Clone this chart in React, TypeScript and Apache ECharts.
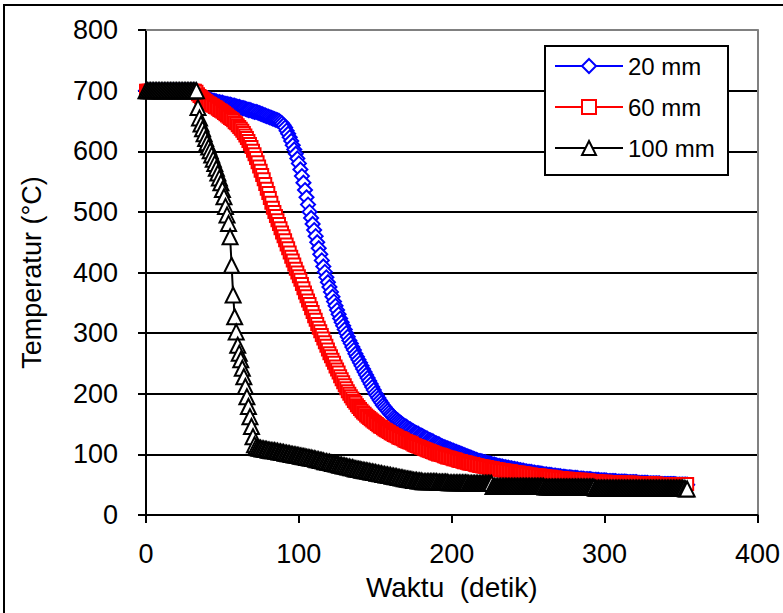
import { useEffect, useRef } from "react";
import * as echarts from "echarts";

// Legend names
const SERIES_NAMES = ["20 mm", "60 mm", "100 mm"];

// Temperature (°C) read every second, t = 0 … 354 s
const temp20 = [
  700, 700, 700, 700, 700, 700, 700, 700, 700, 700,
  700, 700, 700, 700, 700, 700, 700, 700, 700, 700,
  700, 700, 700, 700, 700, 700, 700, 700, 700, 700,
  700, 700, 700, 700, 696, 693, 691, 690, 689, 688,
  687, 686, 685, 684, 683, 683, 682, 681, 681, 680,
  680, 679, 678, 678, 677, 677, 676, 675, 675, 674,
  673, 673, 672, 671, 671, 670, 669, 668, 668, 667,
  666, 665, 665, 664, 663, 662, 661, 660, 659, 658,
  657, 656, 655, 654, 653, 652, 651, 650, 648, 646,
  643, 639, 634, 629, 623, 617, 610, 603, 596, 588,
  580, 570, 559, 548, 536, 524, 512, 500, 490, 480,
  470, 460, 450, 440, 430, 420, 410, 401, 392, 384,
  376, 368, 360, 352, 345, 338, 331, 324, 318, 312,
  306, 300, 294, 288, 283, 277, 272, 266, 261, 256,
  251, 246, 241, 236, 231, 226, 221, 216, 211, 206,
  201, 197, 193, 189, 185, 181, 178, 175, 172, 169,
  166, 164, 161, 159, 157, 155, 153, 151, 149, 147,
  146, 144, 142, 141, 139, 138, 136, 135, 134, 132,
  131, 130, 128, 127, 126, 124, 123, 122, 121, 119,
  118, 117, 116, 114, 113, 112, 111, 110, 109, 108,
  107, 106, 105, 104, 103, 102, 101, 100, 99, 98,
  97, 96, 95, 94, 93, 92, 91, 90, 89, 89,
  88, 87, 87, 86, 85, 85, 84, 83, 83, 82,
  81, 81, 80, 80, 79, 79, 78, 78, 77, 77,
  76, 76, 75, 75, 74, 74, 73, 73, 72, 72,
  71, 71, 71, 70, 70, 69, 69, 69, 68, 68,
  67, 67, 67, 66, 66, 66, 65, 65, 65, 64,
  64, 64, 63, 63, 63, 62, 62, 62, 62, 61,
  61, 61, 61, 60, 60, 60, 60, 59, 59, 59,
  59, 59, 58, 58, 58, 58, 58, 57, 57, 57,
  57, 57, 56, 56, 56, 56, 56, 56, 55, 55,
  55, 55, 55, 55, 55, 54, 54, 54, 54, 54,
  54, 54, 53, 53, 53, 53, 53, 53, 53, 52,
  52, 52, 52, 52, 52, 52, 52, 51, 51, 51,
  51, 51, 51, 51, 51, 51, 51, 50, 50, 50,
  50, 50, 50, 50, 50,
];

const temp60 = [
  700, 700, 700, 700, 700, 700, 700, 700, 700, 700,
  700, 700, 700, 700, 700, 700, 700, 700, 700, 700,
  700, 700, 700, 700, 700, 700, 700, 700, 700, 700,
  700, 700, 700, 698, 694, 691, 689, 687, 685, 683,
  681, 679, 678, 676, 675, 673, 672, 670, 668, 667,
  665, 663, 661, 659, 657, 655, 653, 651, 648, 646,
  643, 640, 637, 634, 630, 626, 622, 617, 612, 607,
  601, 595, 589, 582, 575, 568, 561, 554, 546, 538,
  531, 523, 515, 507, 500, 493, 486, 480, 473, 466,
  460, 453, 446, 440, 433, 426, 420, 413, 406, 400,
  394, 388, 381, 374, 367, 361, 354, 348, 341, 335,
  328, 322, 315, 309, 303, 297, 291, 285, 279, 273,
  267, 262, 256, 251, 245, 240, 235, 229, 224, 219,
  214, 209, 204, 200, 196, 192, 188, 185, 181, 178,
  175, 172, 169, 167, 164, 162, 160, 158, 156, 154,
  152, 150, 148, 146, 145, 143, 141, 140, 138, 137,
  135, 134, 132, 131, 130, 128, 127, 126, 125, 123,
  122, 121, 120, 119, 118, 116, 115, 114, 113, 112,
  111, 110, 109, 108, 107, 106, 105, 104, 103, 102,
  101, 100, 100, 99, 98, 97, 96, 95, 95, 94,
  93, 92, 92, 91, 90, 89, 89, 88, 87, 87,
  86, 85, 85, 84, 84, 83, 82, 82, 81, 81,
  80, 80, 79, 79, 78, 78, 77, 77, 76, 76,
  75, 75, 74, 74, 74, 73, 73, 72, 72, 72,
  71, 71, 70, 70, 70, 69, 69, 69, 68, 68,
  67, 67, 67, 66, 66, 66, 65, 65, 65, 64,
  64, 64, 63, 63, 63, 63, 62, 62, 62, 61,
  61, 61, 61, 60, 60, 60, 60, 59, 59, 59,
  59, 58, 58, 58, 58, 58, 57, 57, 57, 57,
  57, 56, 56, 56, 56, 56, 55, 55, 55, 55,
  55, 55, 54, 54, 54, 54, 54, 54, 54, 53,
  53, 53, 53, 53, 53, 53, 53, 53, 53, 53,
  52, 52, 52, 52, 52, 52, 52, 52, 52, 52,
  52, 52, 52, 52, 52, 51, 51, 51, 51, 51,
  51, 51, 51, 51, 51, 51, 51, 51, 51, 51,
  51, 51, 51, 51, 51,
];

const temp100 = [
  700, 700, 700, 700, 700, 700, 700, 700, 700, 700,
  700, 700, 700, 700, 700, 700, 700, 700, 700, 700,
  700, 700, 700, 700, 700, 700, 700, 700, 700, 700,
  700, 700, 700, 700, 672, 655, 645, 637, 629, 621,
  614, 607, 601, 594, 587, 580, 572, 564, 556, 548,
  537, 525, 509, 495, 481, 459, 412, 363, 327, 302,
  280, 267, 256, 242, 228, 212, 195, 179, 162, 146,
  129, 116, 112, 111, 110, 110, 109, 109, 108, 108,
  107, 107, 106, 106, 106, 105, 105, 104, 104, 103,
  103, 102, 102, 101, 101, 100, 100, 99, 99, 98,
  98, 97, 97, 96, 96, 95, 95, 94, 94, 93,
  93, 92, 91, 91, 90, 90, 89, 88, 88, 87,
  87, 86, 85, 85, 84, 84, 83, 82, 82, 81,
  81, 80, 79, 79, 78, 78, 77, 76, 76, 75,
  75, 74, 74, 73, 73, 72, 72, 71, 71, 70,
  70, 69, 69, 68, 68, 67, 67, 66, 66, 65,
  65, 64, 64, 63, 63, 62, 62, 61, 61, 60,
  60, 59, 59, 58, 58, 57, 57, 57, 56, 56,
  56, 55, 55, 55, 55, 55, 55, 55, 55, 55,
  55, 54, 54, 54, 54, 54, 54, 54, 53, 53,
  53, 53, 53, 53, 53, 53, 53, 53, 53, 53,
  53, 52, 52, 52, 52, 52, 52, 52, 52, 52,
  52, 52, 52, 52, 52, 52, 52, 47, 47, 47,
  47, 47, 47, 47, 47, 47, 47, 47, 47, 47,
  47, 47, 47, 47, 47, 47, 47, 47, 47, 47,
  47, 47, 47, 47, 47, 47, 47, 47, 47, 47,
  47, 46, 46, 46, 46, 46, 46, 46, 46, 46,
  46, 46, 46, 46, 46, 46, 46, 46, 46, 46,
  46, 46, 46, 46, 46, 46, 46, 46, 46, 46,
  46, 46, 46, 46, 44, 44, 44, 44, 44, 44,
  44, 44, 44, 44, 44, 44, 44, 44, 44, 44,
  44, 44, 44, 44, 44, 44, 44, 44, 44, 44,
  44, 44, 44, 44, 44, 44, 44, 44, 44, 44,
  44, 44, 44, 44, 44, 44, 44, 44, 44, 44,
  44, 44, 44, 44, 44, 44, 44, 44, 44, 44,
  44, 44, 44, 43, 43,
];

const FONT = "'Liberation Sans', Arial, Helvetica, sans-serif";

export default function App() {
  const ref = useRef<HTMLDivElement>(null);

  useEffect(() => {
    document.body.style.margin = "0";
    if (!ref.current) return;
    const chart = echarts.init(ref.current, undefined, { renderer: "svg" });

    const toPoints = (arr: number[]) => arr.map((v, i) => [i, v]);

    const axisBlack = { show: true, onZero: false, lineStyle: { color: "#000", width: 2 } };
    const tickBlack = { show: true, inside: false, length: 8, lineStyle: { color: "#000", width: 2 } };
    const axisGrey = { show: true, onZero: false, lineStyle: { color: "#808080", width: 2 } };

    const mkSeries = (name: string, data: number[], symbol: string, size: number | number[], color: string) => ({
      name,
      type: "line",
      data: toPoints(data),
      symbol,
      symbolSize: size,
      showAllSymbol: true,
      itemStyle: { color: "#fff", borderColor: color, borderWidth: 2 },
      lineStyle: { color, width: 2 },
      emphasis: { disabled: true },
      xAxisIndex: 0,
      yAxisIndex: 0,
    });

    chart.setOption({
      animation: false,
      backgroundColor: "#fff",
      textStyle: { fontFamily: FONT, color: "#000" },
      grid: { left: 146, right: 21, top: 30, bottom: 98, containLabel: false },
      xAxis: [
        {
          type: "value",
          min: 0,
          max: 400,
          interval: 100,
          position: "bottom",
          name: "Waktu  (detik)",
          nameLocation: "middle",
          nameGap: 58,
          nameTextStyle: { fontSize: 28, color: "#000", fontFamily: FONT },
          axisLine: axisBlack,
          axisTick: tickBlack,
          axisLabel: { fontSize: 27, color: "#000", margin: 25, fontFamily: FONT },
          splitLine: { show: false },
        },
        {
          type: "value",
          min: 0,
          max: 400,
          position: "top",
          axisLine: axisGrey,
          axisTick: { show: false },
          axisLabel: { show: false },
          splitLine: { show: false },
        },
      ],
      yAxis: [
        {
          type: "value",
          min: 0,
          max: 800,
          interval: 100,
          position: "left",
          name: "Temperatur (°C)",
          nameLocation: "middle",
          nameGap: 101,
          nameTextStyle: { fontSize: 27, color: "#000", fontFamily: FONT },
          axisLine: axisBlack,
          axisTick: tickBlack,
          axisLabel: { fontSize: 27, color: "#000", margin: 28, fontFamily: FONT },
          splitLine: {
            show: true,
            showMinLine: false,
            showMaxLine: false,
            lineStyle: { color: "#000", width: 2 },
          },
        },
        {
          type: "value",
          min: 0,
          max: 800,
          position: "right",
          axisLine: axisGrey,
          axisTick: { show: false },
          axisLabel: { show: false },
          splitLine: { show: false },
        },
      ],
      legend: {
        data: SERIES_NAMES,
        orient: "vertical",
        left: 554,
        top: 54,
        itemWidth: 68,
        itemHeight: 17.5,
        itemGap: 17,
        padding: 0,
        selectedMode: false,
        z: 5,
        textStyle: { fontSize: 24, color: "#000", fontFamily: FONT },
      },
      graphic: [
        {
          type: "rect",
          z: 4,
          silent: true,
          shape: { x: 545, y: 46, width: 183, height: 129 },
          style: { fill: "#fff", stroke: "#000", lineWidth: 2 },
        },
        {
          type: "rect",
          z: 10,
          silent: true,
          shape: { x: 4, y: 5, width: 820, height: 700 },
          style: { fill: "none", stroke: "#000", lineWidth: 2 },
        },
      ],
      series: [
        mkSeries(SERIES_NAMES[0], temp20, "diamond", 14, "#0000ff"),
        mkSeries(SERIES_NAMES[1], temp60, "rect", 12, "#ff0000"),
        mkSeries(SERIES_NAMES[2], temp100, "triangle", [15, 15], "#000000"),
      ],
    });

    return () => chart.dispose();
  }, []);

  return <div ref={ref} style={{ width: 783, height: 613 }} />;
}
